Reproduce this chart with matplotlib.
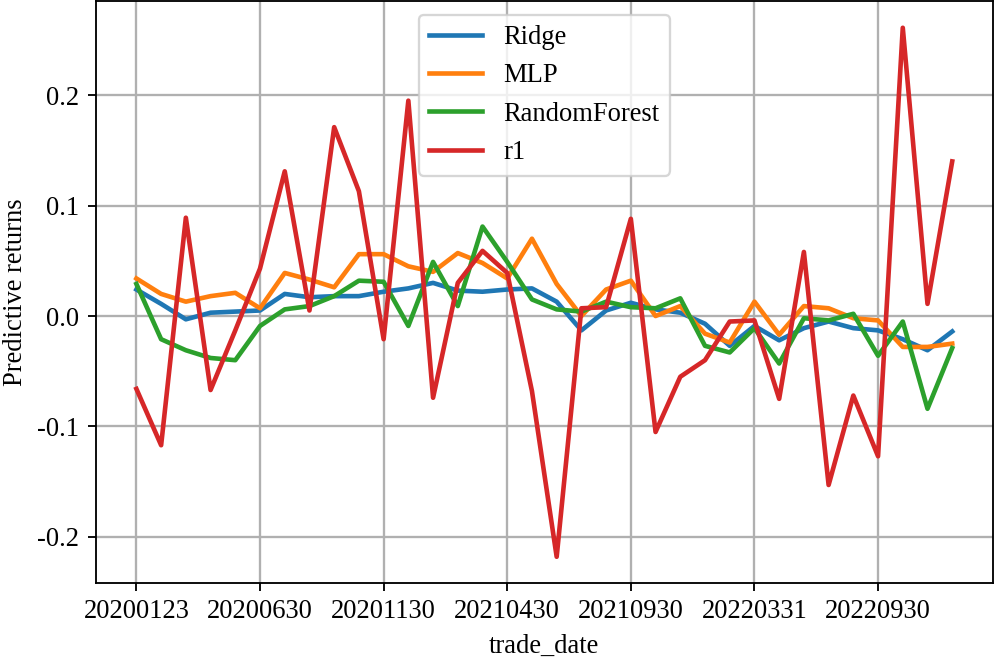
import matplotlib
matplotlib.use("Agg")
import matplotlib.pyplot as plt

plt.rcParams['font.family'] = 'Liberation Serif'
plt.rcParams['font.size'] = 11.5
plt.rcParams['axes.unicode_minus'] = False

trade_date = ['20200123', '20200228', '20200331', '20200430', '20200529', '20200630',
              '20200731', '20200831', '20200930', '20201030', '20201130', '20201231',
              '20210129', '20210226', '20210331', '20210430', '20210531', '20210630',
              '20210730', '20210831', '20210930', '20211029', '20211130', '20211231',
              '20220228', '20220331', '20220429', '20220531', '20220630', '20220831',
              '20220930', '20221031', '20221130', '20221230']

ridge = [0.024, 0.011, -0.003, 0.003, 0.004, 0.005, 0.020, 0.017, 0.018, 0.018,
         0.022, 0.025, 0.030, 0.023, 0.022, 0.024, 0.025, 0.013, -0.013, 0.005,
         0.012, 0.006, 0.003, -0.007, -0.027, -0.009, -0.022, -0.011, -0.005, -0.011,
         -0.013, -0.021, -0.031, -0.014]
mlp = [0.034, 0.020, 0.013, 0.018, 0.021, 0.007, 0.039, 0.033, 0.026, 0.056,
       0.056, 0.045, 0.040, 0.057, 0.048, 0.034, 0.070, 0.029, 0.000, 0.024,
       0.032, 0.000, 0.009, -0.016, -0.024, 0.013, -0.017, 0.009, 0.007, -0.002,
       -0.004, -0.028, -0.028, -0.025]
rf = [0.029, -0.021, -0.031, -0.038, -0.040, -0.009, 0.006, 0.009, 0.018, 0.032,
      0.031, -0.009, 0.049, 0.009, 0.081, 0.049, 0.015, 0.006, 0.004, 0.013,
      0.008, 0.007, 0.016, -0.027, -0.033, -0.011, -0.043, -0.002, -0.004, 0.002,
      -0.036, -0.005, -0.084, -0.029]
r1 = [-0.066, -0.117, 0.089, -0.067, -0.013, 0.043, 0.131, 0.005, 0.171, 0.113,
      -0.021, 0.195, -0.074, 0.030, 0.059, 0.039, -0.068, -0.218, 0.007, 0.008,
      0.088, -0.105, -0.055, -0.040, -0.005, -0.004, -0.075, 0.058, -0.153, -0.072,
      -0.127, 0.261, 0.011, 0.140]

fig, ax = plt.subplots(figsize=(6.0, 3.988), dpi=166)
ax.plot(trade_date, ridge, lw=2, label='Ridge')
ax.plot(trade_date, mlp, lw=2, label='MLP')
ax.plot(trade_date, rf, lw=2, label='RandomForest')
ax.plot(trade_date, r1, lw=2, label='r1')

ax.set_xticks(trade_date[::5])
ax.grid(lw=1.0)
ax.set_xlabel('trade_date')
ax.set_ylabel('Predictive returns')
ax.legend(loc='upper center')

plt.subplots_adjust(left=0.096, right=0.997, top=0.998, bottom=0.119)
plt.savefig('out.png')
